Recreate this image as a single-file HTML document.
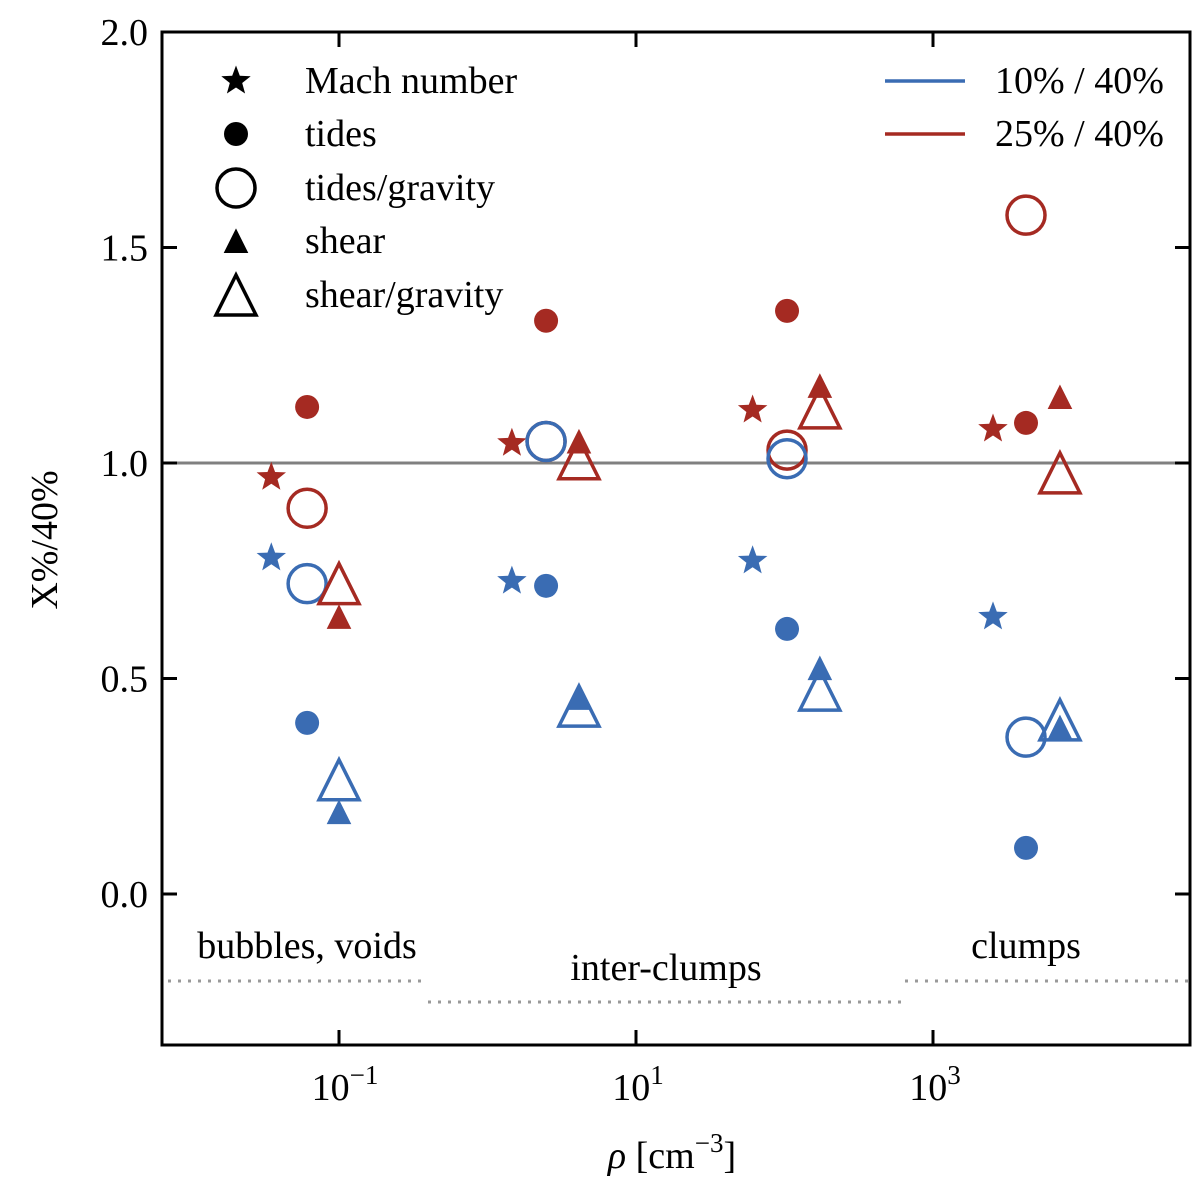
<!DOCTYPE html>
<html><head><meta charset="utf-8"><style>
body{margin:0;background:#fff}
svg text{font-family:"Liberation Serif",serif;fill:#000}
</style></head><body>
<svg id="chart" width="1200" height="1180" xmlns="http://www.w3.org/2000/svg"></svg>
<script>
// data arrays
const densities = {mach:[0.035,1.46,61,2535], tides:[0.061,2.48,104,4230], shear:[0.1,4.13,173,7160]};
const blueMach = [0.78,0.726,0.773,0.643];
const redMach = [0.967,1.046,1.123,1.079];
const blueTides = [0.397,0.715,0.615,0.107];
const redTides = [1.13,1.33,1.353,1.093];
const blueTidesGrav = [0.72,1.05,1.01,0.364];
const redTidesGrav = [0.895,1.05,1.03,1.575];
const blueShear = [0.19,0.455,0.524,0.387];
const redShear = [0.643,1.05,1.179,1.153];
const blueShearGrav = [0.265,0.436,0.473,0.404];
const redShearGrav = [0.72,1.01,1.128,0.977];
const yTicks = [0.0,0.5,1.0,1.5,2.0];
const yTickLabels = ["0.0","0.5","1.0","1.5","2.0"];
const xTickExps = [-1,1,3];

const L=162,R=1190,T=32,B=1045;
const X = v => 339 + (Math.log10(v)+1)*148.5;
const Y = v => 894 - v*431;
const BLUE="#3a6cb3", RED="#a52a22";
const svg=document.getElementById('chart');
const NS="http://www.w3.org/2000/svg";
function mk(tag,attrs,parent){const e=document.createElementNS(NS,tag);for(const k in attrs)e.setAttribute(k,attrs[k]);(parent||svg).appendChild(e);return e;}

let ref=mk('line',{x1:L,x2:R,y1:Y(1),y2:Y(1),stroke:'#808080','stroke-width':3});



const dots=[[168,428,981],[428,905,1002],[905,1190,981]];
dots.forEach(d=>{const l=mk('line',{x1:d[0],x2:d[1],y1:d[2],y2:d[2],stroke:'#999','stroke-width':3,'stroke-dasharray':'3,7'});

});
function txt(x,y,s,size,anchor,name){const t=mk('text',{x:x,y:y,'font-size':size,'text-anchor':anchor||'start'});t.textContent=s;

return t;}
txt(307,958,'bubbles, voids',38,'middle','region-label-bubbles');
txt(666,980,'inter-clumps',38,'middle','region-label-interclumps');
txt(1026,958,'clumps',38,'middle','region-label-clumps');

function star(cx,cy,r,color){let p=[];for(let i=0;i<10;i++){const a=-Math.PI/2+i*Math.PI/5;const rr=i%2?r*0.42:r;p.push((cx+rr*Math.cos(a)).toFixed(1)+','+(cy+rr*Math.sin(a)).toFixed(1));}
const e=mk('polygon',{points:p.join(' '),fill:color});return e;}
function tri(cx,cy,h,color,open){const w=h;const p=`${cx},${cy-h/2} ${cx-w/2},${cy+h/2} ${cx+w/2},${cy+h/2}`;
return mk('polygon',{points:p,fill:open?'none':color,stroke:color,'stroke-width':open?3.5:1,'stroke-linejoin':'miter'});}
function circ(cx,cy,r,color,open){return mk('circle',{cx:cx,cy:cy,r:r,fill:open?'#fff':color,'fill-opacity':open?0:1,stroke:color,'stroke-width':open?3.5:0});}
function name(e,n){
}

for(let i=0;i<4;i++){
  name(star(X(densities.mach[i]),Y(redMach[i]),15.5,RED),'red-mach-point');
  name(star(X(densities.mach[i]),Y(blueMach[i]),15.5,BLUE),'blue-mach-point');
  name(circ(X(densities.tides[i]),Y(redTides[i]),12,RED,false),'red-tides-point');
  name(circ(X(densities.tides[i]),Y(blueTides[i]),12,BLUE,false),'blue-tides-point');
  name(circ(X(densities.tides[i]),Y(redTidesGrav[i]),19,RED,true),'red-tides-gravity-point');
  name(circ(X(densities.tides[i]),Y(blueTidesGrav[i]),19,BLUE,true),'blue-tides-gravity-point');
  name(tri(X(densities.shear[i]),Y(redShear[i]),23,RED,false),'red-shear-point');
  name(tri(X(densities.shear[i]),Y(blueShear[i]),23,BLUE,false),'blue-shear-point');
  name(tri(X(densities.shear[i]),Y(redShearGrav[i]),40,RED,true),'red-shear-gravity-point');
  name(tri(X(densities.shear[i]),Y(blueShearGrav[i]),40,BLUE,true),'blue-shear-gravity-point');
}

const fr=mk('rect',{x:L,y:T,width:R-L,height:B-T,fill:'none',stroke:'#000','stroke-width':3});
name(fr,'plot-frame');
yTicks.forEach((v,i)=>{const y=Y(v);
  name(mk('line',{x1:L,x2:L+15,y1:y,y2:y,stroke:'#000','stroke-width':3}),'y-tick');
  name(mk('line',{x1:R-15,x2:R,y1:y,y2:y,stroke:'#000','stroke-width':3}),'y-tick-right');
  txt(L-14,y+13,yTickLabels[i],38,'end','y-tick-label');});
xTickExps.forEach(e=>{const x=X(Math.pow(10,e));
  name(mk('line',{x1:x,x2:x,y1:B-15,y2:B,stroke:'#000','stroke-width':3}),'x-tick');
  name(mk('line',{x1:x,x2:x,y1:T,y2:T+15,stroke:'#000','stroke-width':3}),'x-tick-top');
  const t=txt(x,1100,'10',38,'middle','x-tick-label');
  const s=mk('tspan',{dy:-16,'font-size':27});s.textContent=(e<0?'\u2212':'')+Math.abs(e);t.appendChild(s);
  t.setAttribute('x',x+(e<0?6:2));
});

const yt=txt(0,0,'X%/40%',38,'middle','y-axis-title');yt.setAttribute('transform','translate(57,540) rotate(-90)');
const xt=mk('text',{x:672,y:1168,'font-size':38,'text-anchor':'middle'});
xt.innerHTML='<tspan font-style="italic">ρ</tspan> [cm<tspan dy="-16" font-size="27">−3</tspan><tspan dy="16">]</tspan>';
name(xt,'x-axis-title');

const legY=[81,134,188,241,295];
const legLabels=['Mach number','tides','tides/gravity','shear','shear/gravity'];
name(star(236,legY[0],15.5,'#000'),'legend-marker-mach');
name(circ(236,legY[1],12,'#000',false),'legend-marker-tides');
name(circ(236,legY[2],19,'#000',true),'legend-marker-tides-gravity');
name(tri(236,legY[3],23,'#000',false),'legend-marker-shear');
name(tri(236,legY[4],40,'#000',true),'legend-marker-shear-gravity');
legLabels.forEach((s,i)=>txt(305,legY[i]+12,s,38,'start','legend-entry'));
name(mk('line',{x1:885,x2:965,y1:81,y2:81,stroke:BLUE,'stroke-width':3.5}),'legend-line-blue');
name(mk('line',{x1:885,x2:965,y1:134,y2:134,stroke:RED,'stroke-width':3.5}),'legend-line-red');
txt(995,93,'10% / 40%',38,'start','legend-entry-blue');
txt(995,146,'25% / 40%',38,'start','legend-entry-red');
</script>
</body></html>
